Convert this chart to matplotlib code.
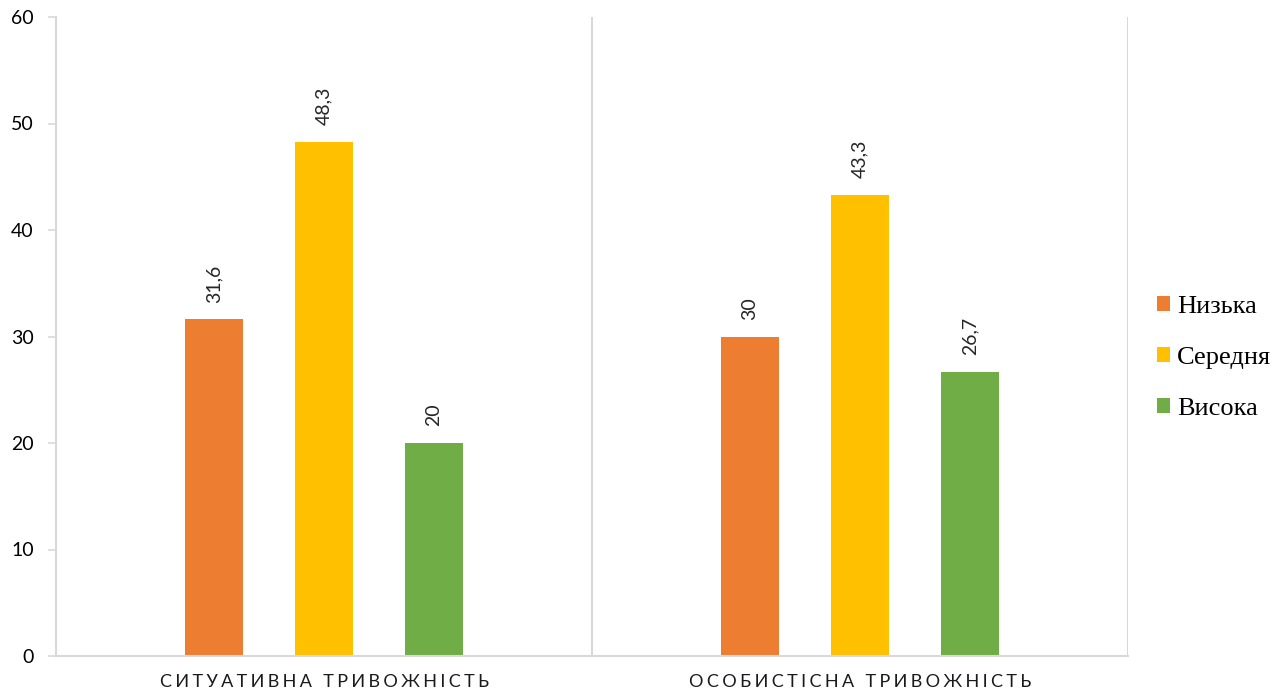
import matplotlib.pyplot as plt
import numpy as np

categories = ["СИТУАТИВНА ТРИВОЖНІСТЬ", "ОСОБИСТІСНА ТРИВОЖНІСТЬ"]
levels = ["Низька", "Середня", "Висока"]
low = [31.6, 30]
mid = [48.3, 43.3]
high = [20, 26.7]
colors = ["#ED7D31", "#FFC000", "#70AD47"]

GRID = "#D9D9D9"
plt.rcParams['font.family'] = ['Lato', 'DejaVu Sans']

fig = plt.figure(figsize=(12.85, 6.94), dpi=100)
ax = fig.add_axes([56/1285, 38/694, (1128-56)/1285, (656-17)/694])

x = np.arange(len(categories))
width = 0.108
step = 0.205
for k, (vals, lab, c) in enumerate(zip([low, mid, high], levels, colors)):
    pos = x + (k - 1) * step
    bars = ax.bar(pos, vals, width, color=c, label=lab)
    for b, v in zip(bars, vals):
        ax.annotate(f"{v:g}".replace(".", ","), (b.get_x() + b.get_width()/2, v),
                    xytext=(0, 12), textcoords="offset points", rotation=90,
                    ha="center", va="bottom", fontsize=14, color="#262626")

ax.set_xlim(-0.5, 1.5)
ax.set_ylim(0, 60)
ax.set_yticks(np.arange(0, 61, 10))
ax.tick_params(axis="y", length=6, color=GRID, width=1.2, pad=10, labelsize=14, labelcolor="#000000")

# category separators drawn as minor-tick gridlines
ax.set_xticks([-0.5, 0.5, 1.5], minor=True)
ax.grid(axis="x", which="minor", color=GRID, linewidth=1.5)
ax.set_xticks(x)
spaced = ["\u2009\u200a".join(c) for c in categories]
ax.set_xticklabels(spaced, fontsize=13, color="#1a1a1a")
ax.tick_params(axis="x", which="major", length=0, pad=13)
ax.tick_params(axis="x", which="minor", length=0)

for s in ["top", "right"]:
    ax.spines[s].set_visible(False)
for s in ["left", "bottom"]:
    ax.spines[s].set_color(GRID)
    ax.spines[s].set_linewidth(1.5)

ax.legend(loc="center left", bbox_to_anchor=(1.005, 0.467), frameon=False,
          prop={"family": "Liberation Serif", "size": 19},
          handlelength=0.5, handleheight=0.5, handletextpad=0.25, labelspacing=1.1)

fig.savefig("out.png", dpi=100)
